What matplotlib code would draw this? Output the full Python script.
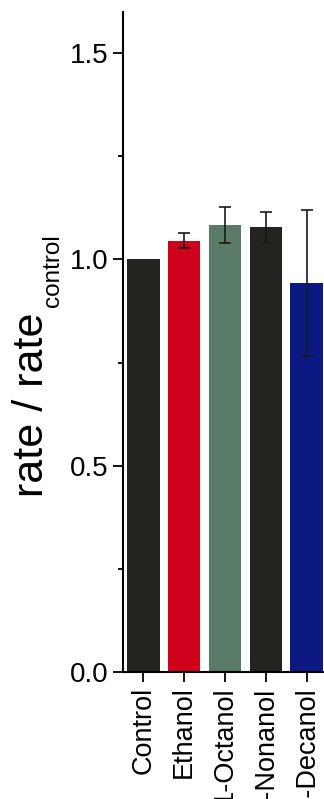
import numpy as np
import matplotlib.pyplot as plt
from matplotlib.ticker import MultipleLocator

plt.rcParams['font.family'] = ['Liberation Sans', 'DejaVu Sans']

# normalised rates (mean, error)
labels = ['Control', 'Ethanol', '1-Octanol', '1-Nonanol', '1-Decanol']
rates = [1.0, 1.046, 1.083, 1.078, 0.942]
errors = [0.0, 0.019, 0.044, 0.038, 0.177]
colors = ['#25231f', '#d0021b', '#5a7b65', '#25231f', '#0b1a82']

x = np.arange(len(labels))

fig = plt.figure(figsize=(3.24, 7.99), dpi=100)
ax = fig.add_axes([0.38, 0.159, 0.62, 0.826])

ax.bar(x, rates, width=0.8, color=colors, zorder=2)
ax.errorbar(x[1:], rates[1:], yerr=errors[1:], fmt='none', ecolor='#1a1a1a',
            elinewidth=1.2, capsize=4.5, capthick=1.2, zorder=3)

ax.set_xlim(-0.49, 4.42)
ax.set_ylim(0, 1.6)
ax.yaxis.set_minor_locator(MultipleLocator(0.25))
ax.set_yticks([0, 0.5, 1.0, 1.5])
ax.set_yticklabels(['0.0', '0.5', '1.0', '1.5'], fontsize=20)
ax.set_xticks(x)
ax.set_xticklabels(labels, rotation=90, fontsize=19.5)

ax.tick_params(axis='both', which='major', direction='out', length=7.5, width=1.3, pad=3)
ax.tick_params(axis='y', which='minor', direction='out', length=3.6, width=1.3)

for s in ['top', 'right']:
    ax.spines[s].set_visible(False)
for s in ['left', 'bottom']:
    ax.spines[s].set_linewidth(1.5)

# y label with a small subscript, drawn as two rotated texts
fig.text(0.162, 0.378, 'rate / rate', rotation=90, fontsize=31,
         ha='right', va='bottom')
fig.text(0.198, 0.616, 'control', rotation=90, fontsize=17.5,
         ha='right', va='bottom')

fig.savefig('out.png', dpi=100)
